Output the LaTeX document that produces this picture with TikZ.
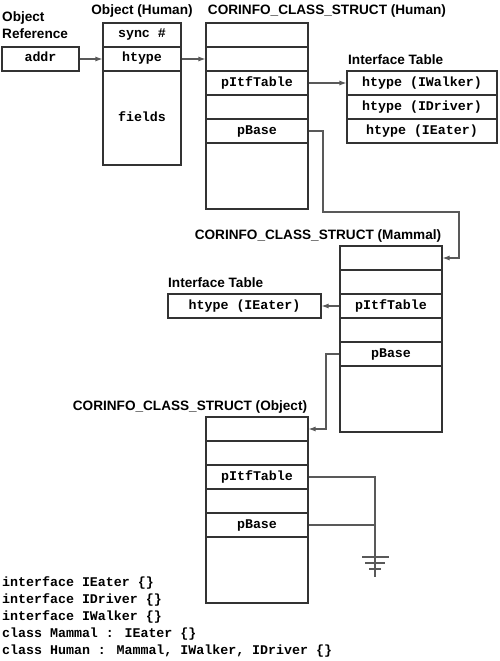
\documentclass[tikz,border=0pt]{standalone}
\usepackage{fontspec}
\setmainfont{Liberation Sans}
\newfontfamily\mono{Liberation Mono}
\usetikzlibrary{arrows.meta}
\tikzset{
  cell/.style={draw=black!80, line width=1.1pt, rectangle, inner sep=0pt,
    text height=9pt, text depth=3pt, minimum height=24pt,
    font=\mono\bfseries\fontsize{13.3}{16}\selectfont},
  title/.style={font=\bfseries\fontsize{13.6}{16}\selectfont, inner sep=0pt},
  code/.style={font=\mono\bfseries\fontsize{13.3}{16}\selectfont, inner sep=0pt, anchor=base west},
  link/.style={draw=black!65, line width=1.1pt},
  arr/.style={link, -{Latex[length=7pt,width=5pt]}},
}
\begin{document}
\begin{tikzpicture}[x=1pt,y=-1pt]
\useasboundingbox (0,0) rectangle (500,661);
% titles
\node[title, anchor=base west] (tobj1) at (2,22) {Object};
\node[title, anchor=base west] (tobj2) at (2,39) {Reference};
\node[title, anchor=base] (thum) at (142,15) {Object (Human)};
\node[title, anchor=base] (ths) at (327,15) {CORINFO\_CLASS\_STRUCT (Human)};
\node[title, anchor=base west] (thit) at (348,64) {Interface Table};
\node[title, anchor=base] (tms) at (318,239) {CORINFO\_CLASS\_STRUCT (Mammal)};
\node[title, anchor=base west] (tmit) at (168,287) {Interface Table};
\node[title, anchor=base] (tos) at (190,410) {CORINFO\_CLASS\_STRUCT (Object)};
% object reference
\node[cell, minimum width=77pt] (addr) at (40.5,59) {addr};
% object (human)
\node[cell, minimum width=78pt] (hsync) at (142,35) {sync \#};
\node[cell, minimum width=78pt] (hhtype) at (142,59) {htype};
\node[cell, minimum width=78pt, minimum height=94pt] (hfields) at (142,118) {fields};
% CORINFO human
\node[cell, minimum width=102pt] (hs1) at (257,35) {};
\node[cell, minimum width=102pt] (hs2) at (257,59) {};
\node[cell, minimum width=102pt] (hs3) at (257,83) {pItfTable};
\node[cell, minimum width=102pt] (hs4) at (257,107) {};
\node[cell, minimum width=102pt] (hs5) at (257,131) {pBase};
\node[cell, minimum width=102pt, minimum height=66pt] (hs6) at (257,176) {};
% interface table human
\node[cell, minimum width=150pt] (hit1) at (422,83) {htype (IWalker)};
\node[cell, minimum width=150pt] (hit2) at (422,107) {htype (IDriver)};
\node[cell, minimum width=150pt] (hit3) at (422,131) {htype (IEater)};
% CORINFO mammal
\node[cell, minimum width=102pt] (ms1) at (391,258) {};
\node[cell, minimum width=102pt] (ms2) at (391,282) {};
\node[cell, minimum width=102pt] (ms3) at (391,306) {pItfTable};
\node[cell, minimum width=102pt] (ms4) at (391,330) {};
\node[cell, minimum width=102pt] (ms5) at (391,354) {pBase};
\node[cell, minimum width=102pt, minimum height=66pt] (ms6) at (391,399) {};
% interface table mammal
\node[cell, minimum width=153pt] (mit) at (244.5,306) {htype (IEater)};
% CORINFO object
\node[cell, minimum width=102pt] (os1) at (257,429) {};
\node[cell, minimum width=102pt] (os2) at (257,453) {};
\node[cell, minimum width=102pt] (os3) at (257,477) {pItfTable};
\node[cell, minimum width=102pt] (os4) at (257,501) {};
\node[cell, minimum width=102pt] (os5) at (257,525) {pBase};
\node[cell, minimum width=102pt, minimum height=66pt] (os6) at (257,570) {};
% connectors
\draw[arr] (addr.east) -- (hhtype.west);
\draw[arr] (hhtype.east) -- (hs2.west);
\draw[arr] (hs3.east) -- (hit1.west);
\coordinate (hb1) at (323,212);
\coordinate (hb2) at (459,212);
\draw[arr] (hs5.east) -| (hb1) -- (hb2) |- (ms1.east);
\draw[arr] (ms3.west) -- (mit.east);
\coordinate (mb) at (326,429);
\draw[arr] (ms5.west) -| (mb) -- (os1.east);
\coordinate (g) at (375,557);
\coordinate (gend) at (375,577);
\draw[link] (os3.east) -| (g) -- (gend);
\draw[link] (os5.east) -- (os5.east -| g);
\draw[link] ([xshift=-13pt]g) -- ([xshift=14pt]g);
\draw[link] ([xshift=-10pt,yshift=-6pt]g) -- ([xshift=10pt,yshift=-6pt]g);
\draw[link] ([xshift=-6pt,yshift=-12pt]g) -- ([xshift=6pt,yshift=-12pt]g);
% code
\node[code] (c1) at (2,586) {interface IEater \{\}};
\node[code] (c2) at (2,603) {interface IDriver \{\}};
\node[code] (c3) at (2,620) {interface IWalker \{\}};
\node[code] (c4) at (2,637) {class Mammal : IEater \{\}};
\node[code] (c5) at (2,654) {class Human : Mammal, IWalker, IDriver \{\}};
\end{tikzpicture}
\end{document}
